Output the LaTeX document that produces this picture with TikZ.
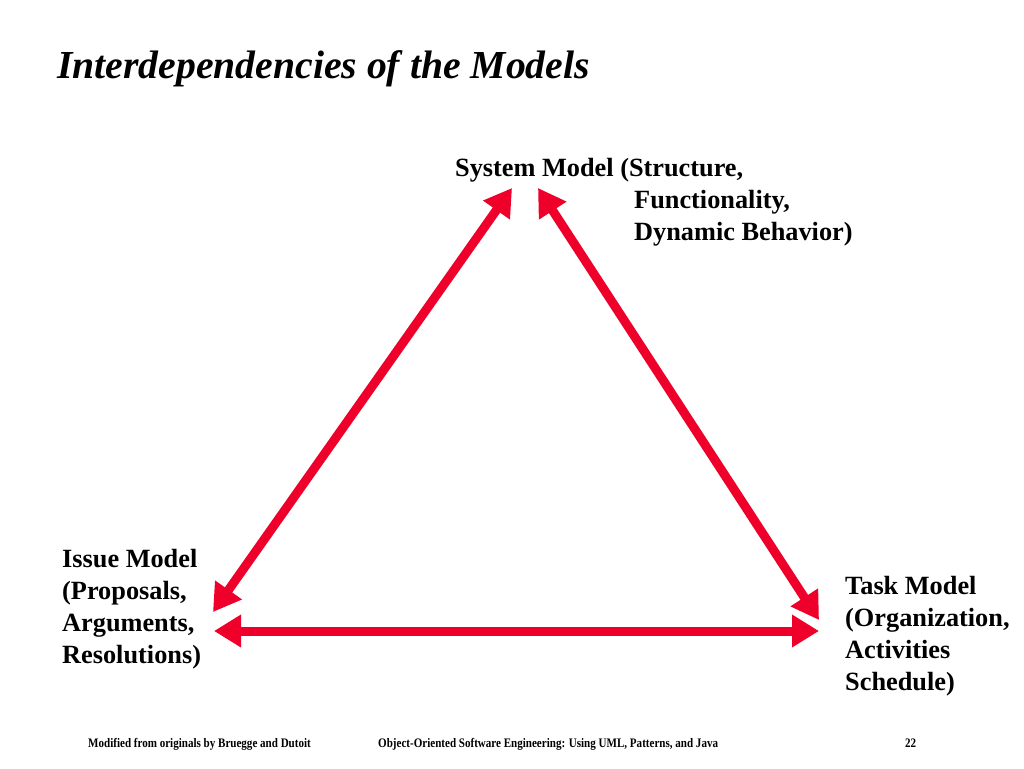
\documentclass[tikz,border=0pt]{standalone}
\usepackage{fontspec}
\setmainfont{Liberation Serif}
\newfontfamily\footfont[FakeStretch=0.85]{Liberation Serif}
\usetikzlibrary{arrows.meta}
\definecolor{linkred}{RGB}{238,0,42}
\tikzset{
    slide-title/.style = {anchor=base west, inner sep=0pt, font=\fontsize{39.7}{48}\selectfont\bfseries\itshape},
    model-label/.style = {anchor=north west, inner sep=0pt, align=left, font=\fontsize{26.3}{32}\selectfont\bfseries},
    model-link/.style = {draw=linkred, line width=9pt, {Triangle[length=27pt,width=31pt]}-{Triangle[length=27pt,width=31pt]}},
    footer/.style = {anchor=base west, inner sep=0pt, font=\footfont\fontsize{13}{15}\selectfont\bfseries},
}

\begin{document}
\begin{tikzpicture}[x=1pt,y=-1pt]
\useasboundingbox[fill=white] (0,0) rectangle (1024,768);
\node[slide-title] (title) at (57,78) {Interdependencies of the Models};

% the three models
\node[model-label] (system) at (455,158) {System Model (Structure,\\\hspace*{179pt}Functionality,\\\hspace*{179pt}Dynamic Behavior)};
\node[model-label] (issue) at (62,549) {Issue Model\\(Proposals,\\Arguments,\\Resolutions)};
\node[model-label] (task) at (845,576) {Task Model\\(Organization,\\Activities\\Schedule)};

% arrow ends
\coordinate (system-l) at (512,188);
\coordinate (system-r) at (538,188);
\coordinate (issue-d) at (213,612);
\coordinate (issue-h) at (214,631);
\coordinate (task-d) at (819,620);
\coordinate (task-h) at (819,631);

\draw[model-link] (issue-d) -- (system-l);
\draw[model-link] (system-r) -- (task-d);
\draw[model-link] (issue-h) -- (task-h);

% footer
\node[footer] (credit) at (88,747) {Modified from originals by Bruegge and Dutoit};
\node[footer] (book) at (378,747) {Object-Oriented Software Engineering: Using UML, Patterns, and Java};
\node[footer] (page) at (905,747) {22};
\end{tikzpicture}
\end{document}
